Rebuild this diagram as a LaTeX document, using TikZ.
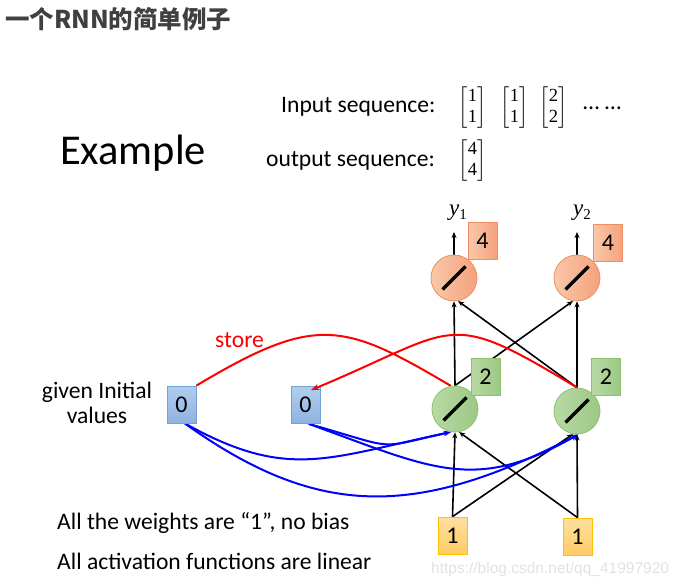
\documentclass[tikz,border=0pt]{standalone}
\usepackage{amsmath}
\usepackage{fontspec}
\setmainfont{Carlito}
\newfontfamily\cjkfont{Noto Sans CJK SC}
\newfontfamily\wmfont{Liberation Sans}
\newfontfamily\ytfont{Liberation Serif}
\usetikzlibrary{arrows.meta,calc}
\pgfdeclarelayer{background}
\pgfsetlayers{background,main}
\definecolor{titlegray}{HTML}{404040}
\definecolor{oL}{HTML}{F9C8AA}
\definecolor{oR}{HTML}{F4A27C}
\definecolor{oD}{HTML}{EE8E62}
\definecolor{gL}{HTML}{B8D9A4}
\definecolor{gR}{HTML}{9CC885}
\definecolor{gD}{HTML}{8EC16F}
\definecolor{bT}{HTML}{B0CDEC}
\definecolor{bB}{HTML}{8FB3E0}
\definecolor{bD}{HTML}{74A2D8}
\definecolor{yT}{HTML}{FFE0A0}
\definecolor{yB}{HTML}{FFCC66}
\definecolor{yD}{HTML}{FFC000}
\definecolor{wmgray}{HTML}{E2E2E2}
\newcommand{\md}[1]{\text{\ytfont\fontsize{18.5}{20}\selectfont #1}}
\newcommand{\mvec}[2]{\setlength{\arraycolsep}{2.5pt}$\begin{bmatrix}\md{#1}\\\md{#2}\end{bmatrix}$}
\newcommand{\ylab}[1]{{\ytfont\itshape\fontsize{23}{26}\selectfont y}\raisebox{-4pt}{\ytfont\fontsize{15}{17}\selectfont #1}}
\tikzset{
  txt/.style={font=\fontsize{23.6}{28}\selectfont, inner sep=0pt},
  nbox/.style={rectangle, minimum width=29pt, minimum height=37pt, inner sep=0pt,
    line width=0.8pt, font=\fontsize{24}{28}\selectfont},
  obox/.style={nbox, draw=oD, left color=oL, right color=oR},
  gbox/.style={nbox, draw=gD, left color=gL, right color=gR},
  bbox/.style={nbox, draw=bD, top color=bT, bottom color=bB},
  ybox/.style={nbox, draw=yD, top color=yT, bottom color=yB},
  neuron/.style={circle, minimum size=46pt, inner sep=0pt, line width=0.8pt,
    path picture={\draw[draw=black, line width=3.3pt]
      ([xshift=-11.5pt,yshift=-11.5pt]path picture bounding box.center) --
      ([xshift=11.5pt,yshift=11.5pt]path picture bounding box.center);}},
  oneuron/.style={neuron, draw=oD, left color=oL, right color=oR},
  gneuron/.style={neuron, draw=gD, left color=gL, right color=gR},
  blk/.style={line width=1.6pt, black, -{Stealth[length=6pt,width=5pt]}},
  bl/.style={line width=2pt, blue, -{Stealth[length=7pt,width=5pt]}},
  rd/.style={line width=2pt, red},
  rdarr/.style={rd, -{Stealth[length=8pt,width=6pt]}},
  mat/.style={font=\fontsize{18.5}{21}\selectfont, inner sep=0pt}
}
\begin{document}
\begin{tikzpicture}[x=1pt,y=-1pt]
\useasboundingbox (0,0) rectangle (684,585);
% texts
\node[anchor=base west, font=\cjkfont\bfseries\fontsize{24.5}{28}\selectfont, text=titlegray, inner sep=0pt] (title) at (5,29) {一个RNN的简单例子};
\node[anchor=base west, font=\fontsize{42.5}{50}\selectfont, inner sep=0pt] (ex) at (60,165) {Example};
\node[txt, anchor=base west] (inseq) at (281,113) {Input sequence:};
\node[txt, anchor=base west] (outseq) at (266,167) {output sequence:};
\node[mat] (m1) at (472.5,108) {\mvec{1}{1}};
\node[mat] (m2) at (514.5,108) {\mvec{1}{1}};
\node[mat] (m3) at (553.5,108) {\mvec{2}{2}};
\node[txt, anchor=base west] (dots) at (583,110) {… …};
\node[mat] (m4) at (472.5,161) {\mvec{4}{4}};
\node[txt, anchor=base] (gi1) at (97,398) {given Initial};
\node[txt, anchor=base] (gi2) at (97,423) {values};
\node[txt, anchor=base west] (w1) at (57,529) {All the weights are “1”, no bias};
\node[txt, anchor=base west] (w2) at (57,569) {All activation functions are linear};
\node[txt, anchor=base west, text=red] (store) at (215,347) {store};
\node[anchor=base west, font=\wmfont\fontsize{15.5}{18}\selectfont, text=wmgray, inner sep=0pt] (wm) at (431,573) {https://blog.csdn.net/qq\_41997920};
\node[anchor=base, inner sep=0pt] (y1) at (458,215) {\ylab{1}};
\node[anchor=base, inner sep=0pt] (y2) at (582,215) {\ylab{2}};
\coordinate (t1) at (454,232);
\coordinate (t2) at (577,232);
% neurons
\node[oneuron] (o1) at (454,278) {};
\node[oneuron] (o2) at (577,278) {};
\node[gneuron] (g1) at (455,409) {};
\node[gneuron] (g2) at (577,411) {};
% boxes
\node[obox] (o1b) at (482.5,240.5) {4};
\node[obox] (o2b) at (608,242.5) {4};
\node[gbox] (g1b) at (485.5,376.5) {2};
\node[gbox] (g2b) at (606,376.5) {2};
\node[bbox] (b1) at (181.5,404.5) {0};
\node[bbox] (b2) at (305.5,405) {0};
\node[ybox] (x1) at (452.5,535.5) {1};
\node[ybox] (x2) at (577.5,536.5) {1};
% connectors
\begin{pgfonlayer}{background}
\draw[blk] (o1.north) -- (t1);
\draw[blk] (o2.north) -- (t2);
\draw[blk] (x1.north) -- (g1.south);
\draw[blk] (x1.north) -- (g2.-100);
\draw[blk] (x2.north) -- (g1.-80);
\draw[blk] (x2.north) -- (g2.south);
\draw[blk] (g1.north) -- (o1.south);
\draw[blk] (g1.north) -- (o2.-100);
\draw[blk] (g2.north) -- (o1.-80);
\draw[blk] (g2.north) -- (o2.south);
\draw[bl] (b1.-80) .. controls (288,481) and (327,458) .. (g1.-100);
\draw[bl] (b1.-80) .. controls (317,518) and (415,519) .. (g2.-87);
\draw[bl] (b2.-80) .. controls (401,450) and (373,449) .. (g1.-100);
\draw[bl] (b2.-80) .. controls (431,468) and (474,494) .. (g2.-87);
\draw[rd] (b1.north east) .. controls (316,314) and (343,322) .. (g1.100);
\end{pgfonlayer}
\draw[rdarr] (g2.north) .. controls (444,307) and (460,328) .. ($(b2.north)+(5.5,4)$);
\end{tikzpicture}
\end{document}
